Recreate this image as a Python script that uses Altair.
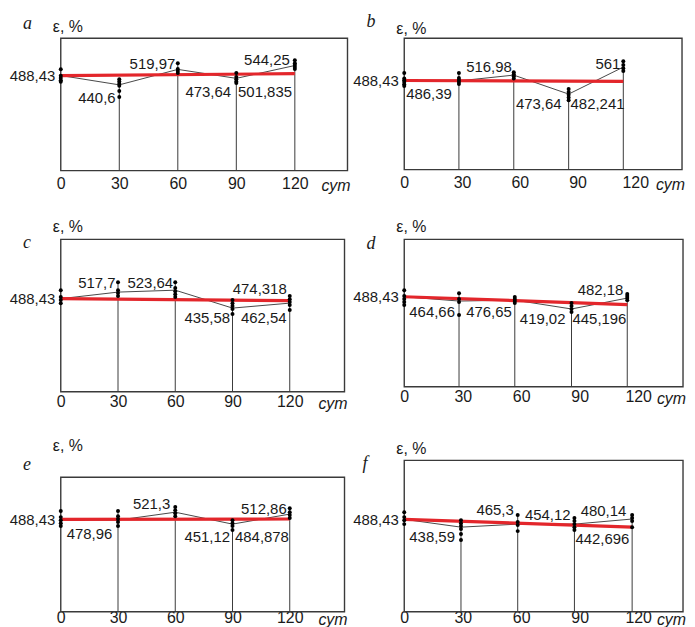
import altair as alt
import pandas as pd

# ---------------- data ----------------
XTICKS = [0, 30, 60, 90, 120]
LEVEL = 488.43

# panel a
a_days = [0, 30, 60, 90, 120]
a_dots = [[521, 488, 476, 464, 456], [470, 458, 446, 436, 409, 378],
          [552, 522, 512, 502], [501, 481, 470, 458, 450],
          [567, 552, 542, 532, 522]]
a_means = [488.43, 440.6, 520, 474, 540]
a_trend = [488.43, 498]
a_lbl_text = ["440,6", "519,97", "473,64", "501,835", "544,25"]
a_lbl_x = [28.1, 58.7, 87.3, 90.9, 117.4]
a_lbl_y = [373, 547, 404, 404, 567]
a_lbl_side = ["r", "r", "r", "l", "r"]

# panel b
b_days = [0, 28.4, 56.9, 85.4, 113.8]
b_dots = [[529, 500, 490, 480, 468, 458], [529, 502, 491, 480, 469],
          [534, 523, 512, 500], [442, 425, 410, 395, 380],
          [594, 573, 556, 540]]
b_means = [488.43, 486.39, 518, 414, 562]
b_trend = [488.43, 484]
b_lbl_text = ["486,39", "516,98", "473,64", "482,241", "561"]
b_lbl_x = [1.0, 55.9, 81.7, 86.4, 112.3]
b_lbl_y = [414, 562, 360, 360, 578]
b_lbl_side = ["l", "r", "r", "l", "r"]

# panel c
c_days = [0, 30, 60, 90, 120]
c_dots = [[533, 497, 481, 465], [575, 533, 518, 502],
          [575, 544, 528, 512, 497], [481, 465, 450, 434, 408],
          [502, 486, 471, 455, 429]]
c_means = [488.43, 523, 533, 439, 465]
c_trend = [488.43, 478]
c_lbl_text = ["517,7", "523,64", "474,318", "435,58", "462,54"]
c_lbl_x = [28.7, 58.9, 118.4, 88.7, 94.4]
c_lbl_y = [570, 570, 539, 387, 387]
c_lbl_side = ["r", "r", "r", "r", "l"]

# panel d
d_days = [0, 28.1, 56.7, 85.8, 114.4]
d_dots = [[524, 492, 476, 460, 443], [508, 476, 460, 389],
          [487, 476, 465, 454], [454, 438, 422, 405],
          [503, 492, 481, 470]]
d_means = [488.43, 465, 470, 422, 481]
d_trend = [488.43, 446]
d_lbl_text = ["464,66", "476,65", "419,02", "445,196", "482,18"]
d_lbl_x = [2.6, 55.2, 82.7, 86.3, 112.4]
d_lbl_y = [405, 405, 368, 368, 524]
d_lbl_side = ["l", "r", "r", "l", "r"]

# panel e
e_days = [0, 30, 60, 90, 120]
e_dots = [[532, 500, 484, 468, 453], [532, 505, 490, 474, 453],
          [553, 537, 521, 505], [484, 468, 453, 432],
          [547, 526, 511, 495]]
e_means = [488.43, 484, 526, 463, 516]
e_trend = [488.43, 490]
e_lbl_text = ["478,96", "521,3", "451,12", "484,878", "512,86"]
e_lbl_x = [3.1, 57.4, 88.7, 91.3, 118.4]
e_lbl_y = [410, 568, 395, 395, 542]
e_lbl_side = ["l", "r", "r", "l", "r"]

# panel f
f_days = [0, 29.1, 58.2, 87.3, 116.9]
f_dots = [[526, 500, 484, 463], [484, 468, 453, 437, 411, 379],
          [511, 474, 458, 426], [495, 479, 463, 447, 432],
          [511, 495, 479, 447]]
f_means = [488.43, 447, 463, 463, 490]
f_trend = [488.43, 447]
f_lbl_text = ["438,59", "465,3", "454,12", "480,14", "442,696"]
f_lbl_x = [2.6, 56.2, 85.3, 113.9, 87.8]
f_lbl_y = [395, 537, 510, 532, 384]
f_lbl_side = ["l", "r", "r", "r", "l"]

# ---------------- styling ----------------
SANS = "Liberation Sans"
SERIF = "Liberation Serif"
RED = "#e3262b"
INK = "#1a1a1a"


def panel(days, dots, means, trend, lt, lx, ly, ls, letter,
          xmax, ymax, w, h, frame_top, lab_pad, eps_dy, let_dx, let_dy, sut_dy):
    xs = alt.Scale(domain=[0, xmax], nice=False, zero=False)
    ys = alt.Scale(domain=[0, ymax], nice=False, zero=False)
    xaxis = alt.Axis(values=XTICKS, title=None, domain=False, ticks=False, grid=False,
                     labelFont=SANS, labelFontSize=16, labelPadding=lab_pad,
                     labelColor=INK, labelFlush=False, labelOverlap=False)
    yaxis = alt.Axis(values=[LEVEL], title=None, domain=False, ticks=False, grid=False,
                     labelExpr="replace(format(datum.value, '.2f'), '.', ',')",
                     labelFont=SANS, labelFontSize=15, labelPadding=6, labelColor=INK)

    dot_rows = [{"day": d, "v": v} for d, vs in zip(days, dots) for v in vs]
    dots_df = pd.DataFrame(dot_rows)
    mean_df = pd.DataFrame({"day": days, "v": means})
    rule_df = pd.DataFrame({"day": days[1:], "lo": [0] * (len(days) - 1),
                            "hi": [max(vs) for vs in dots[1:]]})
    trend_df = pd.DataFrame({"day": [days[0], days[-1]], "v": trend})
    lab_df = pd.DataFrame({"t": lt, "x": lx, "y": ly, "s": ls})
    one = pd.DataFrame({"k": [0]})

    frame = alt.Chart(one).mark_rect(filled=False, stroke="#3a3a3a", strokeWidth=1.4).encode(
        x=alt.value(0), x2=alt.value(w), y=alt.value(frame_top), y2=alt.value(h))
    rules = alt.Chart(rule_df).mark_rule(color="#3a3a3a", strokeWidth=1).encode(
        x=alt.X("day:Q", scale=xs, axis=xaxis),
        y=alt.Y("lo:Q", scale=ys, axis=yaxis), y2="hi:Q")
    mline = alt.Chart(mean_df).mark_line(color="#333", strokeWidth=0.9).encode(
        x=alt.X("day:Q", scale=xs), y=alt.Y("v:Q", scale=ys))
    tline = alt.Chart(trend_df).mark_line(color=RED, strokeWidth=3.2).encode(
        x=alt.X("day:Q", scale=xs), y=alt.Y("v:Q", scale=ys))
    pts = alt.Chart(dots_df).mark_circle(size=16, color="black", opacity=1).encode(
        x=alt.X("day:Q", scale=xs), y=alt.Y("v:Q", scale=ys))
    lab_r = alt.Chart(lab_df).transform_filter("datum.s == 'r'").mark_text(
        align="right", baseline="middle", font=SANS, fontSize=15, color=INK).encode(
        x=alt.X("x:Q", scale=xs), y=alt.Y("y:Q", scale=ys), text="t:N")
    lab_l = alt.Chart(lab_df).transform_filter("datum.s == 'l'").mark_text(
        align="left", baseline="middle", font=SANS, fontSize=15, color=INK).encode(
        x=alt.X("x:Q", scale=xs), y=alt.Y("y:Q", scale=ys), text="t:N")
    eps = alt.Chart(one).mark_text(align="left", baseline="middle", font=SANS,
                                   fontSize=16, color=INK).encode(
        x=alt.value(-8), y=alt.value(eps_dy), text=alt.value("ε, %"))
    let = alt.Chart(one).mark_text(align="left", baseline="middle", font=SERIF,
                                   fontStyle="italic", fontSize=18, color=INK).encode(
        x=alt.value(let_dx), y=alt.value(let_dy), text=alt.value(letter))
    sut = alt.Chart(one).mark_text(align="right", baseline="middle", font=SANS,
                                   fontStyle="italic", fontSize=16, color=INK).encode(
        x=alt.value(w + 3), y=alt.value(h + sut_dy), text=alt.value("сут"))
    return alt.layer(frame, rules, mline, tline, pts, lab_r, lab_l, eps, let, sut).properties(
        width=w, height=h, view=alt.ViewBackground(stroke="transparent", fill="white"))


pa = panel(a_days, a_dots, a_means, a_trend, a_lbl_text, a_lbl_x, a_lbl_y, a_lbl_side, "a",
           147, 680, 288, 133, 0, 5, -11, -38, -14, 15)
pb = panel(b_days, b_dots, b_means, b_trend, b_lbl_text, b_lbl_x, b_lbl_y, b_lbl_side, "b",
           144.3, 720, 279, 132, 0, 5, -9, -38, -16, 15)
pc = panel(c_days, c_dots, c_means, c_trend, c_lbl_text, c_lbl_x, c_lbl_y, c_lbl_side, "c",
           148.7, 800, 285, 153, 0, 2, -12, -38, 4, 12)
pd_ = panel(d_days, d_dots, d_means, d_trend, d_lbl_text, d_lbl_x, d_lbl_y, d_lbl_side, "d",
            143, 800, 280, 148, 0, 2, -12, -38, 5, 12)
pe = panel(e_days, e_dots, e_means, e_trend, e_lbl_text, e_lbl_x, e_lbl_y, e_lbl_side, "e",
           148.7, 800, 285, 152, 17, -2, -14, -38, 5, 8)
pf = panel(f_days, f_dots, f_means, f_trend, f_lbl_text, f_lbl_x, f_lbl_y, f_lbl_side, "f",
           143, 800, 280, 152, 0, -2, -11, -42, 4, 8)

chart = alt.concat(pa, pb, pc, pd_, pe, pf, columns=2, bounds="flush",
                   spacing={"row": 69, "column": 57}).properties(
    padding={"left": 0, "top": 3, "right": 0, "bottom": 0}
).configure_view(stroke="transparent", strokeWidth=0, fill="white").configure(background="white")

chart.save("out.html", embed_options={"renderer": "svg", "actions": False})
